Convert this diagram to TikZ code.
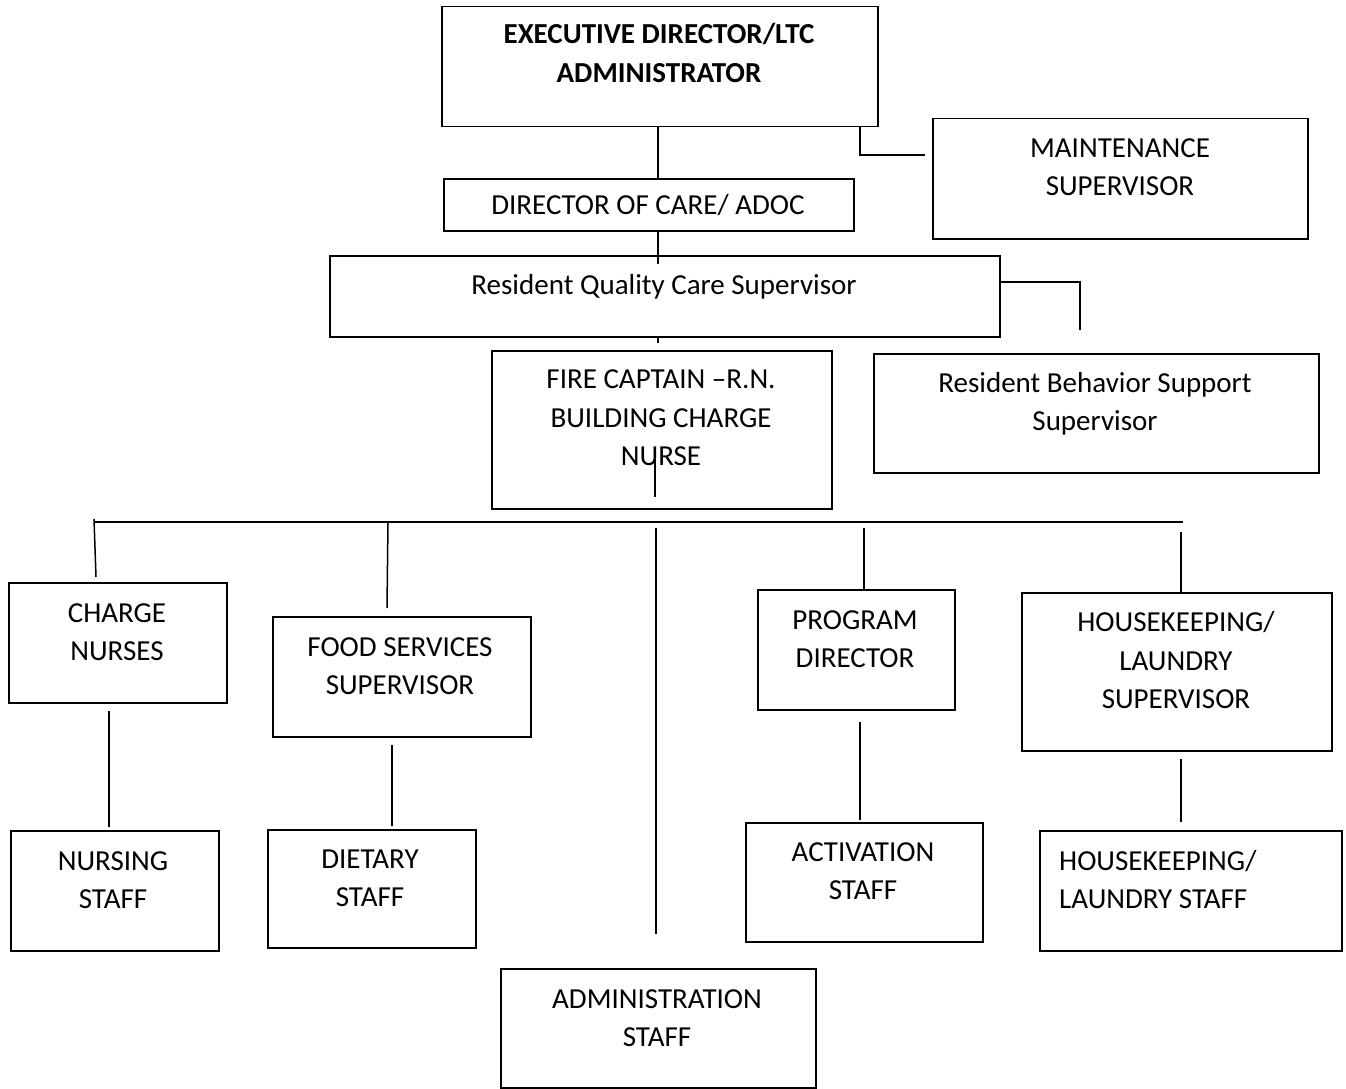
\documentclass[tikz,border=0pt]{standalone}
\usepackage{fontspec}
\setmainfont{Carlito}
\begin{document}
\begin{tikzpicture}[x=1pt,y=-1pt,
  box/.style={draw, line width=1.5pt, inner sep=0pt, anchor=north west},
  lbl/.style={font=\fontsize{29}{38.5}\selectfont, align=center, anchor=base, inner sep=0pt},
  lblleft/.style={lbl, align=left, anchor=base west},
  conn/.style={line width=1.5pt}]
\useasboundingbox (0,0) rectangle (1346,1089);
% boxes
\node[box, minimum width=436pt, minimum height=120pt] (ex) at (441,6) {};
\node[box, minimum width=410pt, minimum height=52pt] (doc) at (443,178) {};
\node[box, minimum width=375pt, minimum height=120pt] (maint) at (932,118) {};
\node[box, minimum width=670pt, minimum height=81pt] (rqc) at (329,255) {};
\node[box, minimum width=340pt, minimum height=158pt] (fire) at (491,350) {};
\node[box, minimum width=445pt, minimum height=119pt] (rbs) at (873,353) {};
\node[box, minimum width=218pt, minimum height=120pt] (charge) at (8,582) {};
\node[box, minimum width=258pt, minimum height=120pt] (food) at (272,616) {};
\node[box, minimum width=197pt, minimum height=120pt] (prog) at (757,589) {};
\node[box, minimum width=310pt, minimum height=158pt] (hk) at (1021,592) {};
\node[box, minimum width=208pt, minimum height=120pt] (nursing) at (10,830) {};
\node[box, minimum width=208pt, minimum height=118pt] (dietary) at (267,829) {};
\node[box, minimum width=237pt, minimum height=119pt] (activ) at (745,822) {};
\node[box, minimum width=302pt, minimum height=120pt] (hkstaff) at (1039,830) {};
\node[box, minimum width=315pt, minimum height=119pt] (admin) at (500,968) {};
% labels (anchor = baseline of last line)
\node[lbl, font=\fontsize{29}{38.5}\selectfont\bfseries] (t-ex) at (659,82.5) {EXECUTIVE DIRECTOR/LTC\\ADMINISTRATOR};
\node[lbl] (t-doc) at (648,214.5) {DIRECTOR OF CARE/ ADOC};
\node[lbl] (t-maint) at (1120,195.5) {MAINTENANCE\\SUPERVISOR};
\node[lbl] (t-rqc) at (664,294.5) {Resident Quality Care Supervisor};
\node[lbl] (t-fire) at (661,465.5) {FIRE CAPTAIN –R.N.\\BUILDING CHARGE\\NURSE};
\node[lbl] (t-rbs) at (1095,430.5) {Resident Behavior Support\\Supervisor};
\node[lbl] (t-charge) at (117,660.5) {CHARGE\\NURSES};
\node[lbl] (t-food) at (400,694.5) {FOOD SERVICES\\SUPERVISOR};
\node[lbl] (t-prog) at (855,667.5) {PROGRAM\\DIRECTOR};
\node[lbl] (t-hk) at (1176,708.5) {HOUSEKEEPING/\\LAUNDRY\\SUPERVISOR};
\node[lbl] (t-nursing) at (113,908.5) {NURSING\\STAFF};
\node[lbl] (t-dietary) at (370,906.5) {DIETARY\\STAFF};
\node[lbl] (t-activ) at (863,899.5) {ACTIVATION\\STAFF};
\node[lblleft] (t-hkstaff) at (1059,908.5) {HOUSEKEEPING/\\LAUNDRY STAFF};
\node[lbl] (t-admin) at (657,1046.5) {ADMINISTRATION\\STAFF};
% connector reference points
\coordinate (xa) at (658,0);
\coordinate (xm) at (860,0);
\coordinate (m1) at (925,155);
\coordinate (d1) at (658,264);
\coordinate (f0) at (658,343);
\coordinate (r1) at (1080,282);
\coordinate (r2) at (1080,330);
\coordinate (fn1) at (655,458);
\coordinate (fn2) at (655,497);
\coordinate (b0) at (94,522);
\coordinate (b1) at (1183,522);
\coordinate (cn0) at (94,519);
\coordinate (cn1) at (96,577);
\coordinate (fs0) at (388,522);
\coordinate (fs1) at (387,608);
\coordinate (ad0) at (656,528);
\coordinate (ad1) at (656,934);
\coordinate (pd0) at (864,528);
\coordinate (hk0) at (1181,532);
\coordinate (ns0) at (109,711);
\coordinate (ns1) at (109,827);
\coordinate (ds0) at (392,745);
\coordinate (ds1) at (392,826);
\coordinate (as0) at (860,722);
\coordinate (as1) at (860,820);
\coordinate (hs0) at (1181,759);
\coordinate (hs1) at (1181,822);
% connectors
\draw[conn] (ex.south -| xa) -- (doc.north -| xa);
\draw[conn] (ex.south -| xm) |- (m1);
\draw[conn] (doc.south -| xa) -- (d1);
\draw[conn] (rqc.south -| xa) -- (f0);
\draw[conn] (rqc.east |- r1) -- (r1) -- (r2);
\draw[conn] (fn1) -- (fn2);
\draw[conn] (b0) -- (b1);
\draw[conn] (cn0) -- (cn1);
\draw[conn] (fs0) -- (fs1);
\draw[conn] (ad0) -- (ad1);
\draw[conn] (pd0) -- (prog.north -| pd0);
\draw[conn] (hk0) -- (hk.north -| hk0);
\draw[conn] (ns0) -- (ns1);
\draw[conn] (ds0) -- (ds1);
\draw[conn] (as0) -- (as1);
\draw[conn] (hs0) -- (hs1);
\end{tikzpicture}
\end{document}
